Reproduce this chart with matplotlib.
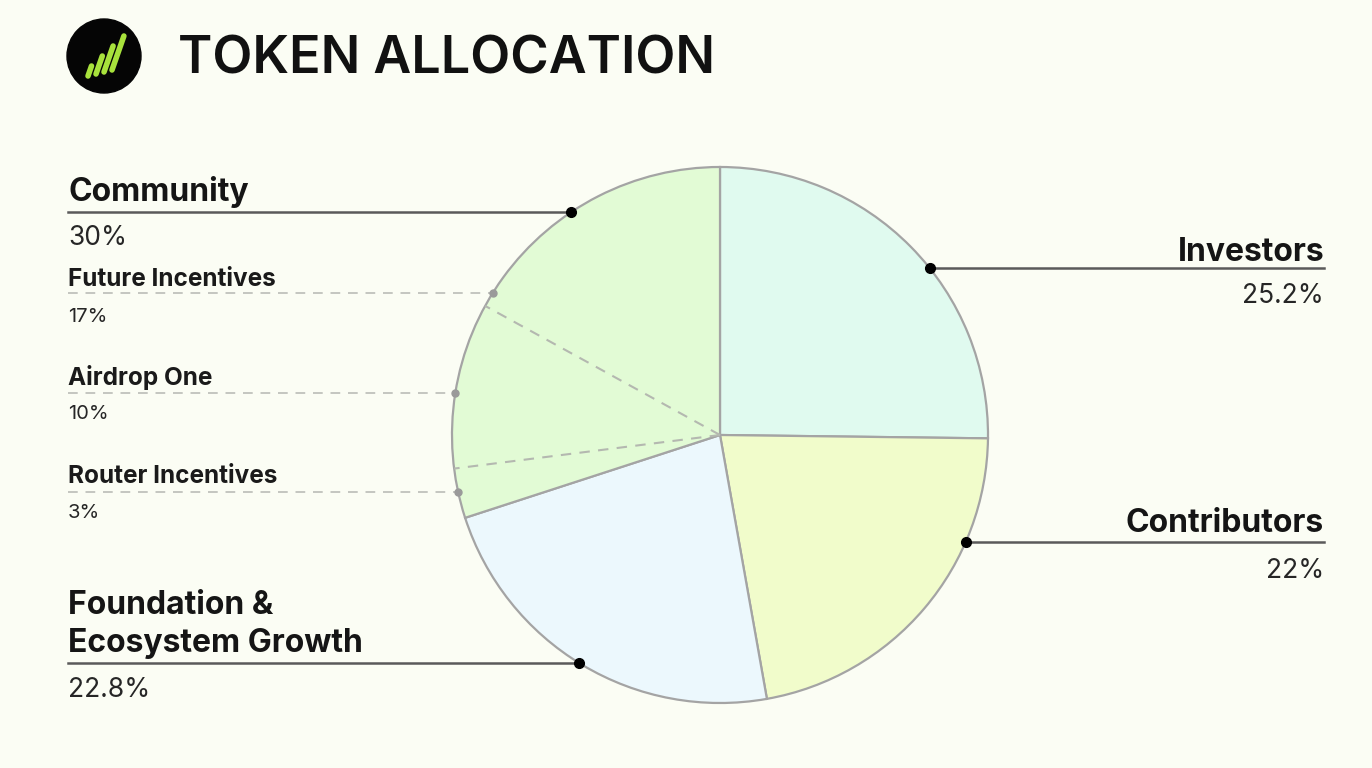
import numpy as np
import matplotlib.pyplot as plt
from matplotlib.patches import Circle

# data
main_labels = ["Investors", "Contributors", "Foundation &\nEcosystem Growth", "Community"]
main_shares = [25.2, 22, 22.8, 30]
main_pcts = ["25.2%", "22%", "22.8%", "30%"]
sub_labels = ["Router Incentives", "Airdrop One", "Future Incentives"]
sub_shares = [3, 10, 17]
sub_pcts = ["3%", "10%", "17%"]

colors = ["#e0faef", "#f1fccb", "#ecf8fd", "#e2fbd5"]
bg = "#fbfdf4"
W, H = 1372, 768
cx, cy, R = 720, H - 435, 268

plt.rcParams['font.family'] = ['Inter', 'DejaVu Sans']

def py(y):
    # pixel row -> data y
    return H - y

fig = plt.figure(figsize=(W / 100, H / 100), dpi=100, facecolor=bg)
ax = fig.add_axes([0, 0, 1, 1])
ax.set_facecolor(bg)

ax.pie(main_shares, colors=colors, startangle=90, counterclock=False,
       radius=R, center=(cx, cy),
       wedgeprops=dict(edgecolor="#a4a4a4", linewidth=1.6))

# dashed split of the community slice
start = 90 - 3.6 * sum(main_shares[:3])
ang = start
for s in sub_shares[:-1]:
    ang -= 3.6 * s
    a = np.deg2rad(ang)
    ax.plot([cx, cx + R * np.cos(a)], [cy, cy + R * np.sin(a)],
            ls=(0, (5, 4)), color="#b4b8b0", lw=1.5, zorder=5)

ax.set_xlim(0, W)
ax.set_ylim(0, H)
ax.set_aspect("equal")
ax.axis("off")

# label layout: (line y, side, name baseline, pct baseline)
main_layout = [
    (268, "right", [261], 303),
    (542, "right", [532], 578),
    (663, "left", [614, 652], 697),
    (212, "left", [201], 245),
]
xl, xr = 68, 1324

for lab, pct, (ly, side, nb, pb) in zip(main_labels, main_pcts, main_layout):
    dy = py(ly) - cy
    dx = np.sqrt(R ** 2 - dy ** 2)
    dot_x = cx + dx if side == "right" else cx - dx
    x_txt = xr if side == "right" else xl
    ha = "right" if side == "right" else "left"
    ax.plot([x_txt, dot_x], [py(ly), py(ly)], color="#5a5a5a", lw=1.8, zorder=6)
    ax.plot(dot_x, py(ly), "o", color="black", ms=7, zorder=7)
    for line, b in zip(lab.split("\n"), nb):
        ax.text(x_txt, py(b), line, ha=ha, va="baseline", fontsize=23,
                fontweight="bold", color="#151515")
    ax.text(x_txt, py(pb), pct, ha=ha, va="baseline", fontsize=19, color="#262626")

sub_layout = [
    (492, 483, 518),
    (393, 385, 419),
    (293, 286, 322),
]
for lab, pct, (ly, nb, pb) in zip(sub_labels, sub_pcts, sub_layout):
    dy = py(ly) - cy
    dot_x = cx - np.sqrt(R ** 2 - dy ** 2)
    ax.plot([xl, dot_x], [py(ly), py(ly)], ls=(0, (5, 4)), color="#c4c6c0", lw=1.4, zorder=6)
    ax.plot(dot_x, py(ly), "o", color="#9a9a9a", ms=5, zorder=7)
    ax.text(xl, py(nb), lab, ha="left", va="baseline", fontsize=17.5,
            fontweight="bold", color="#1a1a1a")
    ax.text(xl, py(pb), pct, ha="left", va="baseline", fontsize=14.5, color="#262626")

# logo
ax.add_patch(Circle((104, py(56)), 37, color="#050505", zorder=8))
for i, (x0, h) in enumerate([(88, 10), (96, 18), (104, 26), (112, 34)]):
    ax.plot([x0, x0 + h * 0.35], [py(76 - i * 2), py(76 - i * 2 - h)],
            color="#a8e23c", lw=4, solid_capstyle="round", zorder=9)

ax.text(178, py(73), "TOKEN ALLOCATION", ha="left", va="baseline",
        fontsize=37.5, fontweight="semibold", color="#111111")

fig.savefig("out.png", dpi=100, facecolor=bg)
